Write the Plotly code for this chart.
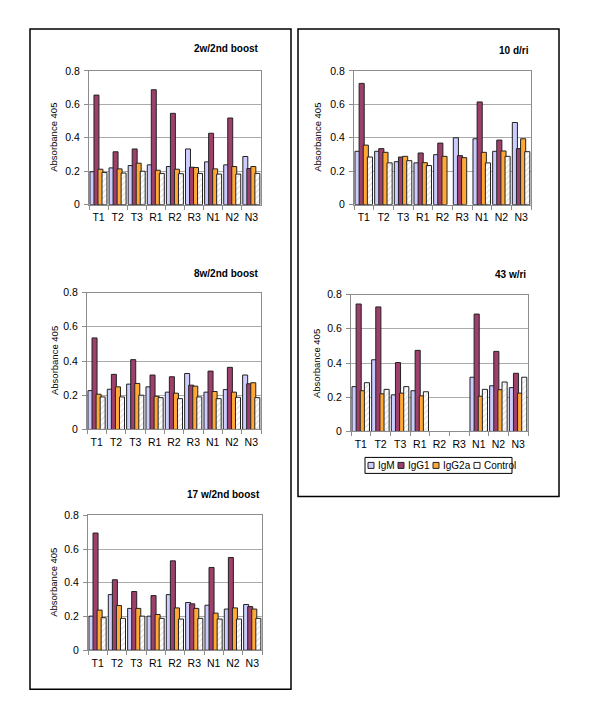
import plotly.graph_objects as go

# ---------------- data ----------------
categories = ["T1", "T2", "T3", "R1", "R2", "R3", "N1", "N2", "N3"]
series_names = ["IgM", "IgG1", "IgG2a", "Control"]
y_ticks = [0, 0.2, 0.4, 0.6, 0.8]

p1_title = "2w/2nd boost"
p1_igm = [0.197, 0.220, 0.234, 0.238, 0.228, 0.333, 0.256, 0.238, 0.288]
p1_igg1 = [0.655, 0.316, 0.333, 0.687, 0.546, 0.224, 0.427, 0.518, 0.216]
p1_igg2a = [0.212, 0.214, 0.248, 0.206, 0.212, 0.222, 0.214, 0.228, 0.228]
p1_control = [0.193, 0.189, 0.200, 0.187, 0.185, 0.187, 0.183, 0.183, 0.187]

p2_title = "8w/2nd boost"
p2_igm = [0.227, 0.235, 0.265, 0.249, 0.218, 0.327, 0.218, 0.233, 0.318]
p2_igg1 = [0.535, 0.322, 0.408, 0.318, 0.308, 0.259, 0.341, 0.363, 0.267]
p2_igg2a = [0.206, 0.249, 0.269, 0.194, 0.212, 0.253, 0.222, 0.218, 0.273]
p2_control = [0.190, 0.190, 0.200, 0.186, 0.180, 0.190, 0.180, 0.188, 0.186]

p3_title = "17 w/2nd boost"
p3_igm = [0.202, 0.330, 0.248, 0.202, 0.330, 0.283, 0.267, 0.244, 0.271]
p3_igg1 = [0.695, 0.418, 0.348, 0.324, 0.530, 0.275, 0.491, 0.550, 0.259]
p3_igg2a = [0.238, 0.265, 0.248, 0.212, 0.251, 0.248, 0.220, 0.251, 0.244]
p3_control = [0.193, 0.189, 0.202, 0.189, 0.185, 0.189, 0.185, 0.185, 0.189]

p4_title = "10 d/ri"
p4_igm = [0.319, 0.319, 0.257, 0.250, 0.299, 0.400, 0.394, 0.319, 0.491]
p4_igg1 = [0.725, 0.335, 0.285, 0.309, 0.368, 0.293, 0.614, 0.386, 0.335]
p4_igg2a = [0.356, 0.313, 0.289, 0.251, 0.289, 0.281, 0.313, 0.321, 0.394]
p4_control = [0.285, 0.250, 0.263, 0.234, None, None, 0.250, 0.289, 0.317]

p5_title = "43 w/ri"
p5_igm = [0.262, 0.419, 0.214, 0.238, None, None, 0.317, 0.267, 0.256]
p5_igg1 = [0.745, 0.728, 0.403, 0.474, None, None, 0.686, 0.468, 0.340]
p5_igg2a = [0.238, 0.220, 0.224, 0.208, None, None, 0.206, 0.244, 0.224]
p5_control = [0.285, 0.246, 0.262, 0.232, None, None, 0.246, 0.289, 0.317]

panels = [
    (p1_title, [p1_igm, p1_igg1, p1_igg2a, p1_control]),
    (p2_title, [p2_igm, p2_igg1, p2_igg2a, p2_control]),
    (p3_title, [p3_igm, p3_igg1, p3_igg2a, p3_control]),
    (p4_title, [p4_igm, p4_igg1, p4_igg2a, p4_control]),
    (p5_title, [p5_igm, p5_igg1, p5_igg2a, p5_control]),
]

# ---------------- styling / layout ----------------
W, H = 600, 725
FONT = "Liberation Sans, Arial, sans-serif"
colors = ["#CCCCFF", "#9E3F6C", "#FFA834", "#FFFFFF"]

# plot-area boxes in pixels: (x0, x1, y0_top, y1_bottom)
boxes = [
    (89, 261, 70, 204),
    (87, 261, 292, 429),
    (88, 262, 515, 650),
    (354, 531, 70, 204),
    (351, 528, 294, 431),
]
title_y = [48, 273, 494, 50, 274]
ytitle_x = [54, 54, 54, 318, 316]

bar_w = 0.26
bar_step = 0.21
bar_start = -0.45

# vertical calibration of the rendered page
Y_SCALE = 0.9845
Y_SHIFT = 5.1


def px_x(v):
    return v / W


def px_y(v):
    return 1 - ((v - Y_SHIFT) / Y_SCALE) / H


fig = go.Figure()
layout = dict(
    width=W, height=H,
    margin=dict(l=0, r=0, t=0, b=0),
    paper_bgcolor="white", plot_bgcolor="white",
    barmode="overlay", showlegend=False,
    font=dict(family=FONT, size=10, color="black"),
)
annotations = []
shapes = []

for i, (title, series) in enumerate(panels):
    n = i + 1
    xa = "x" if n == 1 else f"x{n}"
    ya = "y" if n == 1 else f"y{n}"
    for k, (name, vals) in enumerate(zip(series_names, series)):
        kw = {}
        if name == "Control":
            kw["marker_pattern"] = dict(shape="/", fgcolor="#B5B5B5", bgcolor="white",
                                        size=4, solidity=0.25)
        fig.add_trace(go.Bar(
            x=categories, y=vals, name=name, xaxis=xa, yaxis=ya,
            width=bar_w, offset=bar_start + k * bar_step,
            marker=dict(color=colors[k], line=dict(color="#222222", width=1)),
            showlegend=False, **kw,
        ))
    x0, x1, yt, yb = boxes[i]
    layout["xaxis" if n == 1 else f"xaxis{n}"] = dict(
        domain=[px_x(x0), px_x(x1)], anchor=ya,
        type="category", categoryorder="array", categoryarray=categories,
        range=[-0.5, len(categories) - 0.5],
        showline=True, linecolor="#8C8C8C", linewidth=1, mirror=True,
        ticks="outside", tickson="boundaries", ticklen=4, tickcolor="#8C8C8C",
        tickangle=0, ticklabelstandoff=3,
        tickfont=dict(family=FONT, size=10.5, color="black"),
        showgrid=False, zeroline=False, fixedrange=True,
    )
    layout["yaxis" if n == 1 else f"yaxis{n}"] = dict(
        domain=[px_y(yb), px_y(yt)], anchor=xa,
        range=[0, 0.8], tickvals=y_ticks, ticktext=["0", "0.2", "0.4", "0.6", "0.8"],
        showline=True, linecolor="#8C8C8C", linewidth=1, mirror=True,
        ticks="outside", ticklen=4, tickcolor="#8C8C8C", ticklabelstandoff=2,
        tickfont=dict(family=FONT, size=10.5, color="black"),
        showgrid=True, gridcolor="#ABABAB", gridwidth=1, zeroline=False,
        fixedrange=True,
    )
    annotations.append(dict(
        text=f"<b>{title}</b>", x=px_x(x1), y=px_y(title_y[i]), xref="paper", yref="paper",
        xanchor="right", yanchor="middle", showarrow=False,
        font=dict(family=FONT, size=10, color="black"),
    ))
    annotations.append(dict(
        text="Absorbance 405", x=px_x(ytitle_x[i]), y=px_y((yt + yb) / 2),
        xref="paper", yref="paper", xanchor="center", yanchor="middle",
        textangle=-90, showarrow=False,
        font=dict(family=FONT, size=9.5, color="black"),
    ))

# outer frames
for (bx0, by0, bx1, by1) in [(30, 28, 291, 689), (298, 28, 559, 496)]:
    shapes.append(dict(type="rect", xref="paper", yref="paper",
                       x0=px_x(bx0), x1=px_x(bx1), y0=px_y(by1), y1=px_y(by0),
                       line=dict(color="black", width=1.5), fillcolor="rgba(0,0,0,0)"))

# legend (box, swatches and labels)
shapes.append(dict(type="rect", xref="paper", yref="paper",
                   x0=px_x(365), x1=px_x(512), y0=px_y(473), y1=px_y(457),
                   line=dict(color="black", width=1), fillcolor="white"))
leg_x = 368
leg_label_w = [17, 22, 28, 33]
for k, name in enumerate(series_names):
    shapes.append(dict(type="rect", xref="paper", yref="paper",
                       x0=px_x(leg_x), x1=px_x(leg_x + 6), y0=px_y(468), y1=px_y(462),
                       line=dict(color="#222222", width=1), fillcolor=colors[k]))
    annotations.append(dict(text=name, x=px_x(leg_x + 8), y=px_y(465), xref="paper",
                            yref="paper", xanchor="left", yanchor="middle",
                            showarrow=False, font=dict(family=FONT, size=10, color="black")))
    leg_x += 8 + leg_label_w[k] + 5

layout["annotations"] = annotations
layout["shapes"] = shapes
fig.update_layout(**layout)
fig.write_html(
    "out.html",
    config={"displayModeBar": False},
    post_script=(
        "document.documentElement.style.margin='0';"
        "document.body.style.margin='0';"
        "document.body.style.overflow='hidden';"
        "var g=document.getElementById('{plot_id}');"
        "g.style.position='fixed';g.style.top='0';g.style.left='0';"
    ),
)
